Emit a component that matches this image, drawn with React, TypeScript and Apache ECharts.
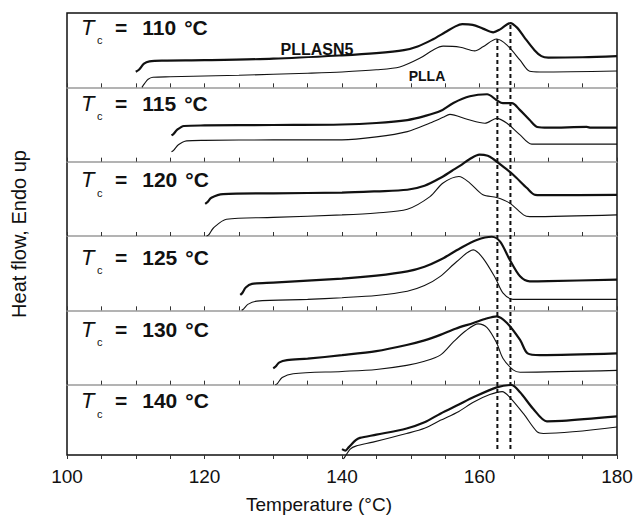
import React, { useEffect, useRef } from "react";
import * as echarts from "echarts";

// Crystallization temperatures of the six DSC runs (top to bottom)
const crystTemps = ["110", "115", "120", "125", "130", "140"];

// Heating scans, [temperature (°C), heat flow (arb. units, endo up)]
const pllasn5_110 = [
  [110.0, 21], [110.5, 24], [111.2, 32], [112, 35], [114, 36], [120, 36.5], [130, 38.5],
  [140, 43], [145, 46], [149, 50], [151, 55], [153, 63.5], [155, 74], [156.5, 82],
  [157.5, 85], [159, 84], [160.5, 79], [162, 74], [163, 78], [164.5, 86.5], [165.5, 80],
  [166.5, 67.5], [168, 50], [169, 42], [170, 40], [175, 40.5], [180, 42],
];
const plla_110 = [
  [110.9, 0], [111.3, 5.4], [111.8, 10.8], [112.5, 13.5], [115, 14.2], [125, 16.2],
  [135, 19], [140, 20.7], [145, 23.6], [148.4, 27.4], [151.3, 39], [153.2, 50],
  [154.7, 55.4], [157.2, 54], [159.3, 49], [160.5, 54.5], [162.5, 65], [164, 56.8],
  [165.9, 36.5], [167.3, 21.6], [168.8, 20.7], [180, 22],
];
const pllasn5_115 = [
  [115.2, 35.3], [115.5, 37.3], [116, 42.7], [117, 48], [120, 48.7], [130, 49.3],
  [140, 50], [145, 52], [149.5, 56], [152, 61.3], [154.3, 68], [156.2, 79], [158.6, 88],
  [161.1, 90.7], [162.5, 82.7], [163.4, 78.7], [164.7, 78.7], [165.9, 69.3], [167.3, 56],
  [168.4, 46.7], [170, 45.7], [175.6, 46.7], [176.2, 45.7], [180, 45.7],
];
const plla_115 = [
  [115.2, 13.3], [115.5, 15.3], [116.2, 22.7], [117.4, 28], [120, 28.7], [130, 29.3],
  [140, 29.3], [145, 33.3], [149.5, 40.4], [152.8, 52], [154.7, 59.6], [155.7, 63.6],
  [158.2, 57], [160.8, 51.6], [162.5, 58.3], [164, 51.6], [165.9, 36], [167.6, 23.6],
  [180, 23.6],
];
const pllasn5_120 = [
  [120.1, 43.2], [120.4, 45.3], [121, 51.4], [122.7, 56.4], [130, 57.4], [140, 58.4],
  [145, 60.1], [149.5, 62.2], [152, 67.6], [154.3, 78], [156, 87.8], [157.2, 94.6],
  [158.6, 103.6], [160, 109.5], [161.2, 108], [162, 103.6], [163.4, 93.6], [164.9, 82.4],
  [166.9, 64.5], [168.1, 55.4], [170, 55], [180, 55.4],
];
const plla_120 = [
  [120.3, 0], [120.6, 1.4], [121.3, 10.8], [123.2, 22.6], [130, 25], [140, 28.4],
  [145, 31], [149.5, 36], [152.8, 53], [154.7, 71.2], [157, 80], [158.6, 71.2],
  [160.5, 55.4], [162.5, 51.8], [164.4, 44.2], [166.4, 28.4], [167.3, 26], [180, 28.4],
];
const pllasn5_125 = [
  [125.2, 20.7], [125.5, 23.3], [126, 30.7], [126.9, 35.6], [130, 37.3], [140, 42.7],
  [145, 46.7], [149.5, 52.4], [152, 58.7], [154.3, 68], [157.2, 83.6], [159.6, 94.7],
  [161.8, 99], [163, 92.4], [164.4, 68], [165.9, 45.7], [167.3, 39], [170, 39.3],
  [180, 41.3],
];
const plla_125 = [
  [125.4, 0], [125.7, 2], [126.3, 8], [127.6, 12.4], [135, 14.7], [140, 17], [145, 20],
  [149.5, 25.7], [152, 33.3], [154.3, 45.7], [156.7, 65.7], [159.1, 81.3], [160.5, 70.3],
  [162.3, 43.6], [163.4, 23.6], [164.9, 14.7], [180, 14.7],
];
const pllasn5_130 = [
  [130, 21.9], [130.3, 24], [130.9, 30], [132, 32.9], [135, 35], [140, 39.7], [145, 45.2],
  [149.4, 53.4], [152, 59.6], [154.3, 67], [156.5, 75.3], [159.1, 83], [161, 89],
  [162.5, 92], [164, 83], [165.9, 60.3], [167, 42], [168.8, 39.7], [180, 42],
];
const plla_130 = [
  [130.3, 0], [130.6, 1.4], [131.3, 9.6], [132.9, 14.7], [140, 17.8], [145, 20.5],
  [149.4, 26], [152, 31.5], [154.3, 39.7], [156.2, 57.5], [158, 72.6], [159.8, 81.8],
  [161.1, 76.7], [162.5, 56], [163.4, 35.6], [164.9, 19.9], [165.9, 16.8], [180, 19.2],
];
const pllasn5_140 = [
  [140, 13.3], [140.5, 11.3], [141, 16], [142, 25.3], [142.6, 28.4], [145, 32.7],
  [149.4, 41], [152, 49.3], [154.3, 61], [157, 73.3], [159.1, 83], [162.5, 96.4],
  [164.6, 99.6], [165.9, 89.7], [167.8, 67.6], [169.8, 50.7], [172, 51.3], [180, 57.3],
];
const plla_140 = [
  [140.2, 0], [140.5, 4], [141.2, 13.3], [142, 17.3], [144.5, 22.7], [149.4, 34.3],
  [152, 41.3], [154.3, 52], [157, 64], [159.1, 76.4], [161.5, 86.7], [163.3, 90.7],
  [164.4, 83], [166.4, 61], [168.4, 36.4], [169.3, 34.3], [180, 43],
];

const pllasn5Runs = [pllasn5_110, pllasn5_115, pllasn5_120, pllasn5_125, pllasn5_130, pllasn5_140];
const pllaRuns = [plla_110, plla_115, plla_120, plla_125, plla_130, plla_140];

// Melting-peak reference temperatures (dashed guides) and their extent in panel units
const guideTemps = [162.6, 164.5];
const guideTops = [5.65, 5.87];
const guideBottom = 0.08;

const FONT = "'Liberation Sans', Arial, sans-serif";
const INK = "#111";

export default function App() {
  const ref = useRef<HTMLDivElement>(null);

  useEffect(() => {
    if (!ref.current) return;
    const chart = echarts.init(ref.current, undefined, { renderer: "svg" });

    const left = 67;
    const right = 23;
    const top = 13;
    const plotH = 446;
    const n = crystTemps.length;
    const h = plotH / n;

    const grids: any[] = [];
    const xAxes: any[] = [];
    const yAxes: any[] = [];
    const series: any[] = [];
    const graphics: any[] = [];

    // vertical centre of each panel's "Tc = ..." caption, measured from the panel top
    const labelOffsets = [14, 16, 18, 21, 19, 16];

    for (let i = 0; i < n; i++) {
      grids.push({ left, right, top: top + i * h, height: h });
      xAxes.push({
        gridIndex: i,
        type: "value",
        min: 100,
        max: 180,
        interval: 5,
        axisLine: { show: i < n - 1, lineStyle: { color: "#9a9a9a", width: 1.5 } },
        axisTick: { show: true, inside: true, length: 4, lineStyle: { color: "#333", width: 1 } },
        axisLabel: {
          show: i === n - 1,
          formatter: (v: number) => (v % 20 === 0 ? String(v) : ""),
          fontFamily: FONT,
          fontSize: 19,
          color: INK,
          margin: 8,
        },
        splitLine: { show: false },
      });
      yAxes.push({ gridIndex: i, type: "value", min: 0, max: 100, show: false });

      series.push({
        type: "line",
        name: "PLLASN5",
        xAxisIndex: i,
        yAxisIndex: i,
        data: pllasn5Runs[i],
        symbol: "none",
        smooth: 0.3,
        clip: false,
        lineStyle: { color: INK, width: 2.2 },
      });
      series.push({
        type: "line",
        name: "PLLA",
        xAxisIndex: i,
        yAxisIndex: i,
        data: pllaRuns[i],
        symbol: "none",
        smooth: 0.3,
        clip: false,
        lineStyle: { color: INK, width: 1.1 },
      });

      const cy = top + i * h + labelOffsets[i];
      graphics.push({
        type: "text",
        x: 81,
        y: cy,
        style: {
          text: "T",
          font: `italic 22px ${FONT}`,
          fill: INK,
          align: "left",
          verticalAlign: "middle",
        },
      });
      graphics.push({
        type: "text",
        x: 97,
        y: cy + 13,
        style: {
          text: "c",
          font: `11px ${FONT}`,
          fill: INK,
          align: "left",
          verticalAlign: "middle",
        },
      });
      graphics.push({
        type: "text",
        x: 115,
        y: cy,
        style: {
          text: `{e|=}{n|${crystTemps[i]}}{u|°C}`,
          align: "left",
          verticalAlign: "middle",
          rich: {
            e: { font: `bold 21px ${FONT}`, fill: INK, padding: [0, 15, 0, 0] },
            n: { font: `bold 21px ${FONT}`, fill: INK, padding: [0, 8, 0, 0] },
            u: { font: `bold 21px ${FONT}`, fill: INK },
          },
        },
      });
    }

    // Frame around all panels, plus the shared axis titles
    grids.push({
      left,
      right,
      top,
      height: plotH,
      show: true,
      borderColor: INK,
      borderWidth: 1.5,
      backgroundColor: "transparent",
    });
    xAxes.push({
      gridIndex: n,
      type: "value",
      min: 100,
      max: 180,
      axisLine: { show: false },
      axisTick: { show: false },
      axisLabel: { show: false },
      splitLine: { show: false },
      name: "Temperature (°C)",
      nameLocation: "middle",
      nameGap: 40,
      nameTextStyle: { fontFamily: FONT, fontSize: 19, color: INK, padding: [0, 46, 0, 0] },
    });
    yAxes.push({
      gridIndex: n,
      type: "value",
      min: 0,
      max: n,
      axisLine: { show: false },
      axisTick: { show: false },
      axisLabel: { show: false },
      splitLine: { show: false },
      name: "Heat flow, Endo up",
      nameLocation: "middle",
      nameGap: 38,
      nameTextStyle: { fontFamily: FONT, fontSize: 20, color: INK },
    });

    guideTemps.forEach((t, k) => {
      series.push({
        type: "line",
        xAxisIndex: n,
        yAxisIndex: n,
        data: [
          [t, guideBottom],
          [t, guideTops[k]],
        ],
        symbol: "none",
        z: 5,
        lineStyle: { color: INK, width: 2, type: [4, 3] },
      });
    });

    // Curve identifiers in the top panel
    graphics.push({
      type: "text",
      x: 317,
      y: 49,
      style: {
        text: "PLLASN5",
        font: `bold 16px ${FONT}`,
        fill: INK,
        align: "center",
        verticalAlign: "middle",
      },
    });
    graphics.push({
      type: "text",
      x: 427,
      y: 76,
      style: {
        text: "PLLA",
        font: `bold 14px ${FONT}`,
        fill: INK,
        align: "center",
        verticalAlign: "middle",
      },
    });

    chart.setOption({
      animation: false,
      backgroundColor: "#fff",
      grid: grids,
      xAxis: xAxes,
      yAxis: yAxes,
      series,
      graphic: graphics,
    });

    return () => chart.dispose();
  }, []);

  return <div ref={ref} style={{ width: 640, height: 519, position: "absolute", left: 0, top: 0 }} />;
}
